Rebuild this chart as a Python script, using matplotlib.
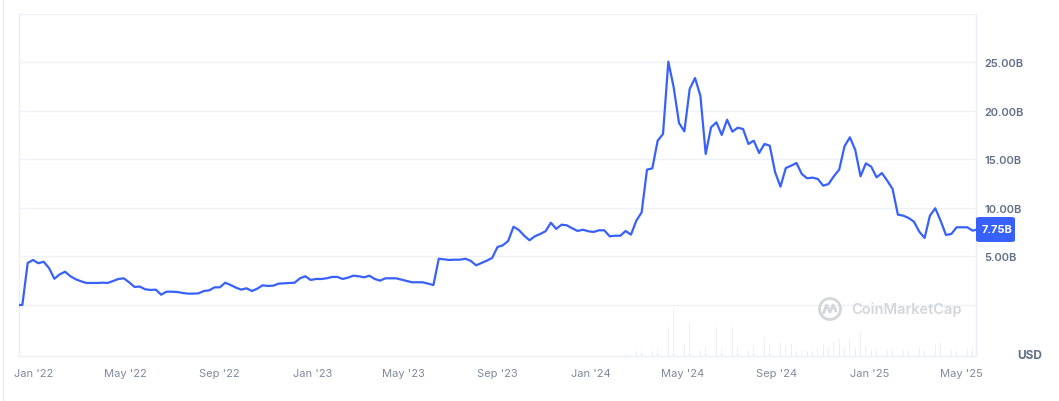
import matplotlib.pyplot as plt
import matplotlib.dates as mdates
import pandas as pd
from matplotlib.patches import Circle, FancyBboxPatch
from matplotlib.lines import Line2D

# weekly market cap (billions USD), first point 2021-12-10
cap_start = '2021-12-10'
cap_2022 = [0, 0, 4.33, 4.64, 4.3, 4.46, 3.8, 2.7, 3.16, 3.43, 2.96, 2.65, 2.44, 2.27, 2.27,
            2.27, 2.3, 2.27, 2.47, 2.68, 2.75, 2.34, 1.86, 1.9, 1.62, 1.55, 1.58, 1.06, 1.37,
            1.37, 1.34, 1.24, 1.17, 1.17, 1.2, 1.44, 1.51, 1.82, 1.82, 2.3, 2.06, 1.79, 1.58,
            1.72, 1.44, 1.68, 2.03, 1.96, 1.99, 2.2, 2.23, 2.27, 2.3, 2.75, 2.96, 2.58, 2.68,
            2.68, 2.75, 2.89, 2.89, 2.68, 2.82, 3.02, 2.96, 2.85, 3.02, 2.68, 2.51, 2.75, 2.75,
            2.75, 2.61, 2.47, 2.34, 2.34, 2.34, 2.2, 2.06]
cap_2023 = [4.77, 4.71, 4.64, 4.67, 4.67, 4.77, 4.54, 4.09, 4.33, 4.57, 4.85, 5.98, 6.15, 6.6,
            8.07, 7.73, 7.14, 6.67, 7.08, 7.32, 7.6, 8.48, 7.84, 8.28, 8.21, 7.9, 7.63, 7.76,
            7.6, 7.53, 7.7, 7.7, 7.08, 7.14, 7.14, 7.63, 7.25, 8.69, 9.55, 13.95, 14.09, 16.94,
            17.63, 25.08]
cap_2024 = [22.44, 18.76, 17.9, 22.27, 23.4, 21.58, 15.57, 18.32, 18.83, 17.53, 19.1, 17.87,
            18.28, 18.14, 16.6, 16.94, 15.67, 16.6, 16.42, 13.68, 12.2, 14.12, 14.36, 14.64,
            13.5, 13.06, 13.13, 12.99, 12.3, 12.47, 13.27, 13.95, 16.36, 17.29, 16.01, 13.27,
            14.6, 14.26, 13.16, 13.6, 12.82, 11.96, 9.31, 9.21, 8.97, 8.59, 7.56, 6.91, 9.21,
            9.97, 8.69, 7.22, 7.32, 8.01, 8.01, 8.01, 7.66]
last_date = '2025-05-20'
last_value = 7.75

# weekly volume (billions USD), first bar 2024-02-16
vol_start = '2024-02-16'
volume = [0.2, 0.3, 0.47, 0.47, 0.47, 0.53, 0.7, 0.87, 2.87, 4.8, 0.6, 1.2, 3.27, 2.0, 0.7,
          0.87, 2.03, 2.93, 0.7, 1.2, 2.87, 0.87, 0.7, 0.7, 1.0, 3.27, 1.87, 1.2, 0.87, 1.53,
          1.0, 1.2, 0.53, 0.53, 0.53, 0.53, 0.87, 1.2, 0.87, 1.53, 1.7, 0.87, 1.7, 0.87, 2.53,
          0.87, 0.6, 0.6, 0.6, 0.6, 0.6, 0.53, 0.6, 0.7, 0.7, 0.87, 0.7, 0.7, 1.2, 1.53, 0.7,
          0.6, 0.53, 0.53, 0.7, 0.87]

y_ticks = [5, 10, 15, 20, 25]
x_ticks = ['2022-01-01', '2022-05-01', '2022-09-01', '2023-01-01', '2023-05-01', '2023-09-01',
           '2024-01-01', '2024-05-01', '2024-09-01', '2025-01-01', '2025-05-01']

cap = cap_2022 + cap_2023 + cap_2024
dates = list(pd.date_range(cap_start, periods=len(cap), freq='7D')) + [pd.Timestamp(last_date)]
cap = cap + [last_value]
vol_dates = pd.date_range(vol_start, periods=len(volume), freq='7D')

blue = '#3861fb'
grid = '#eff2f5'
txt = '#616e85'

plt.rcParams['font.family'] = ['Inter', 'DejaVu Sans']

fig = plt.figure(figsize=(10.59, 4.02), dpi=100)
ax = fig.add_axes([19.3 / 1059, 45 / 402, 956.4 / 1059, 342 / 402])

# volume bars on their own scale
ax2 = ax.twinx()
ax2.bar(vol_dates, volume, width=1.0, color='#edeff2', zorder=1)
ax2.set_ylim(0, 34.2)
ax2.axis('off')
ax.set_zorder(ax2.get_zorder() + 1)
ax.patch.set_visible(False)

ax.plot(dates, cap, color=blue, linewidth=1.6, zorder=3, solid_joinstyle='round')

ax.set_ylim(-5.26, 30)
ax.set_xlim(pd.Timestamp('2021-12-13'), pd.Timestamp(last_date))
for v in range(0, 31, 5):
    ax.axhline(v, color=grid, linewidth=1, zorder=0)

ax.yaxis.tick_right()
ax.set_yticks(y_ticks)
ax.set_yticklabels([f'{v:.2f}B' for v in y_ticks], color=txt, fontsize=8, fontweight='semibold')
ax.tick_params(axis='y', length=0, pad=6)

ax.set_xticks([pd.Timestamp(d) for d in x_ticks])
ax.xaxis.set_major_formatter(mdates.DateFormatter("%b '%y"))
ax.tick_params(axis='x', length=0, pad=9, labelsize=8, labelcolor='#808a9d')

for s in ['top']:
    ax.spines[s].set_visible(False)
for s in ['left', 'right', 'bottom']:
    ax.spines[s].set_color('#eceff2')
    ax.spines[s].set_linewidth(1)

# current value badge
fig.patches.append(FancyBboxPatch((976 / 1059, (402 - 243) / 402), 39 / 1059, 25 / 402,
                                  boxstyle='round,pad=0,rounding_size=0.004',
                                  transform=fig.transFigure, facecolor=blue, edgecolor='none'))
fig.text(981.5 / 1059, (402 - 230.5) / 402, f'{last_value:.2f}B', color='white', fontsize=8,
         fontweight='bold', ha='left', va='center')

fig.text(1030 / 1059, (402 - 356) / 402, 'USD', color=txt, fontsize=8.5, fontweight='bold',
         ha='center', va='center')

# watermark
wm = '#d3d6da'
fig.patches.append(Circle((8.30, 0.92), 0.105, transform=fig.dpi_scale_trans, fill=False,
                          edgecolor=wm, linewidth=2))
fig.lines.append(Line2D([8.235, 8.265, 8.30, 8.33, 8.36], [0.88, 0.96, 0.89, 0.96, 0.90],
                        transform=fig.dpi_scale_trans, color=wm, linewidth=2,
                        solid_joinstyle='round', solid_capstyle='round'))
fig.text(851 / 1059, (402 - 310) / 402, 'CoinMarketCap', color=wm, fontsize=10.5,
         fontweight='semibold', ha='left', va='center')

# outer container border
fig.lines.append(Line2D([2.7 / 1059, 2.7 / 1059], [0, 1], transform=fig.transFigure,
                        color='#eeeeee', linewidth=1))

fig.savefig('out.png', dpi=100)
